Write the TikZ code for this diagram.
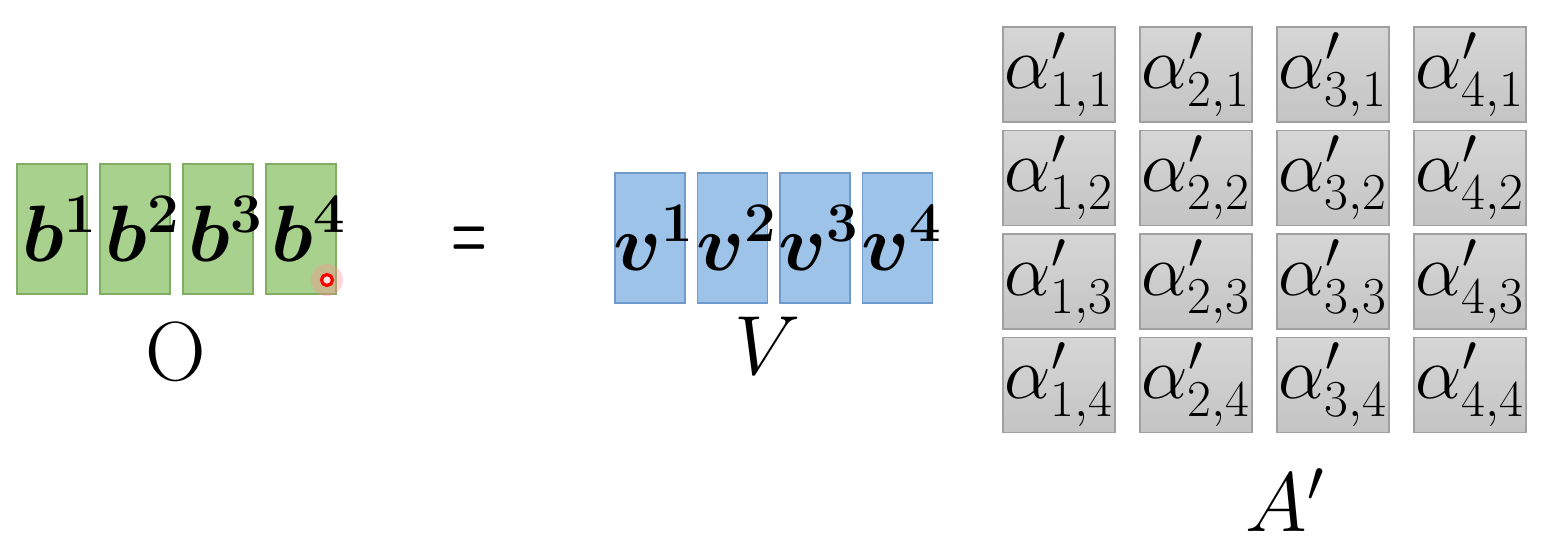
\RequirePackage{fix-cm}
\documentclass[tikz,border=0pt]{standalone}
\usepackage{amsmath}
\usepackage{bm}
\usepackage{graphicx}
\usepackage{tikz}
\definecolor{leaf}{RGB}{169,209,142}
\definecolor{leafdark}{RGB}{128,172,100}
\definecolor{sky}{RGB}{157,195,232}
\definecolor{skydark}{RGB}{112,154,204}
\definecolor{ashtop}{RGB}{214,214,214}
\definecolor{ashlow}{RGB}{196,196,196}
\definecolor{ashdark}{RGB}{160,160,160}
\tikzset{
  obox/.style={draw=leafdark, fill=leaf, line width=0.6pt,
    minimum width=35pt, minimum height=65pt, inner sep=0pt},
  vbox/.style={draw=skydark, fill=sky, line width=0.6pt,
    minimum width=35pt, minimum height=65pt, inner sep=0pt},
  abox/.style={draw=ashdark, top color=ashtop, bottom color=ashlow, line width=0.6pt,
    minimum width=56pt, minimum height=47.5pt, inner sep=0pt,
    font=\fontsize{37}{39}\selectfont},
  vectxt/.style={inner sep=0pt, font=\fontsize{40}{42}\selectfont},
  eqsign/.style={inner sep=0pt, font=\fontsize{24}{26}\selectfont\bfseries},
  mlabel/.style={inner sep=0pt, font=\fontsize{42}{44}\selectfont}
}

\begin{document}
\begin{tikzpicture}[x=0.5pt, y=-0.5pt]
  \useasboundingbox (0,0) rectangle (1560,548);

  % O = b^1 ... b^4
  \foreach \i in {1,...,4} {
    \node[obox] (b\i) at ({52+83*(\i-1)},229) {};
    \node[vectxt] (tb\i) at ([xshift=4pt]b\i.center) {$\bm{b}^{\mathbf{\i}}$};
  }
  \node[mlabel] (O) at (176,352) {O};
  \node[eqsign] (eqs) at (469,243) {\scalebox{0.85}[1.7]{=}};

  % V = v^1 ... v^4
  \foreach \i in {1,...,4} {
    \node[vbox] (v\i) at ({650+82.5*(\i-1)},238) {};
    \node[vectxt] (tv\i) at ([xshift=2pt]v\i.center) {$\bm{v}^{\mathbf{\i}}$};
  }
  \node[mlabel] (V) at (768,346) {$V$};

  % A' grid
  \foreach \c in {1,...,4}
    \foreach \r in {1,...,4}
      \node[abox] (a\c\r) at ({1059+137*(\c-1)},{74.5+103.5*(\r-1)}) {$\alpha'_{\c,\r}$};
  \node[mlabel] (Ap) at (1285,500) {$A'$};

  % pointer
  \fill[red!45, opacity=0.35] (327,280) circle (16);
  \draw[red, line width=1.6pt, fill=red!10] (327,280) circle (5.5);
\end{tikzpicture}
\end{document}
